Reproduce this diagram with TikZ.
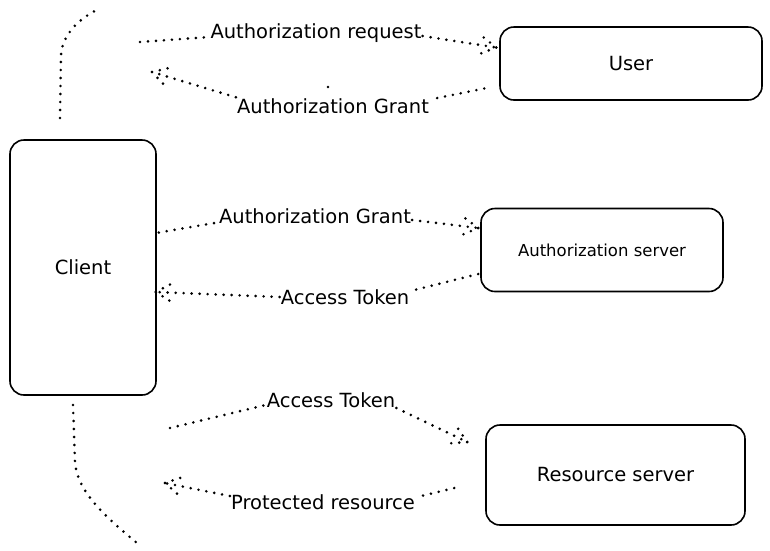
\documentclass[tikz,border=0pt]{standalone}
\usepackage{fontspec}
\setmainfont{DejaVu Sans}
\usetikzlibrary{calc}
\newcommand\mybarbs[2]{%
  \draw[dots] (#1) -- ($(#1)!21pt!30:(#2)$);
  \draw[dots] (#1) -- ($(#1)!21pt!-30:(#2)$);}
\begin{document}
\begin{tikzpicture}[x=1pt,y=-1pt,
  box/.style={draw, line width=1.6pt, rounded corners=14pt, font=\fontsize{19.5}{22}\selectfont},
  lbl/.style={font=\fontsize{19.5}{22}\selectfont, inner sep=1pt},
  dots/.style={line width=2.9pt, line cap=round, dash pattern=on 0pt off 8pt},
]
\useasboundingbox (0,0) rectangle (770,550);

% boxes
\node[box, minimum width=262pt, minimum height=73pt] (user) at (631,63.5) {User};
\node[box, minimum width=146pt, minimum height=255pt] (client) at (83,267.5) {Client};
\node[box, minimum width=242pt, minimum height=83pt, font=\fontsize{16.5}{19}\selectfont] (auth) at (602,250) {Authorization server};
\node[box, minimum width=259pt, minimum height=100pt] (res) at (615.5,475) {Resource server};

% labels
\node[lbl] (L1) at (316,33) {Authorization request};
\node[lbl] (L2) at (333,106) {Authorization Grant};
\node[lbl] (L3) at (315,216) {Authorization Grant};
\node[lbl] (L4) at (345,297) {Access Token};
\node[lbl] (L5) at (331,400) {Access Token};
\node[lbl] (L6) at (323,502) {Protected resource};

% arrow 1: client -> user
\coordinate (a1s) at (140,42);
\coordinate (a1t) at ($(user.west)+(-3,-16)$);
\draw[dots] (a1s) -- ($(L1.west)+(0,4)$);
\draw[dots] ($(L1.east)+(0,3)$) -- (a1t);
\mybarbs{a1t}{$(L1.east)+(0,3)$}

% arrow 2: user -> client
\coordinate (a2s) at ($(user.west)+(-15,25)$);
\coordinate (a2t) at (152,72);
\draw[dots] (a2s) -- ($(L2.north east)+(1,2)$);
\draw[dots] ($(L2.north west)+(0,0)$) -- (a2t);
\mybarbs{a2t}{L2.north west}
\fill (328,87) circle (1.4pt);

% arrow 3: client -> auth
\coordinate (a3s) at ($(client.east)+(2,-35)$);
\coordinate (a3t) at ($(auth.west)+(-2,-22)$);
\draw[dots] (a3s) -- ($(L3.south west)+(-2,-2)$);
\draw[dots] ($(L3.east)+(0,4)$) -- (a3t);
\mybarbs{a3t}{$(L3.east)+(0,4)$}

% arrow 4: auth -> client
\coordinate (a4s) at ($(auth.west)+(-2,24)$);
\coordinate (a4t) at ($(client.east)+(-1,24.5)$);
\draw[dots] (a4s) -- ($(L4.east)+(0,-6)$);
\draw[dots] (L4.west) -- (a4t);
\mybarbs{a4t}{L4.west}

% arrow 5: client -> resource
\coordinate (a5s) at (170,428);
\coordinate (a5t) at ($(res.west)+(-18,-33)$);
\draw[dots] (a5s) -- ($(L5.west)+(0,5)$);
\draw[dots] ($(L5.east)+(0,8)$) -- (a5t);
\mybarbs{a5t}{$(L5.east)+(0,8)$}

% arrow 6: resource -> client
\coordinate (a6s) at ($(res.west)+(-31,13)$);
\coordinate (a6t) at (165,483);
\draw[dots] (a6s) -- ($(L6.north east)+(0,4)$);
\draw[dots] ($(L6.west)+(0,-6)$) -- (a6t);
\mybarbs{a6t}{$(L6.west)+(0,-6)$}

% left dotted curves
\coordinate (t0) at (60,118);
\coordinate (t1) at (61,55);
\coordinate (t2) at (101,8);
\draw[dots] (t0) -- (t1) .. controls (62,36) and (78,18) .. (t2);
\coordinate (b0) at (73,405);
\coordinate (b1) at (75,462);
\coordinate (b2) at (137,543);
\draw[dots] (b0) -- (b1) .. controls (77,494) and (112,522) .. (b2);
\end{tikzpicture}
\end{document}
